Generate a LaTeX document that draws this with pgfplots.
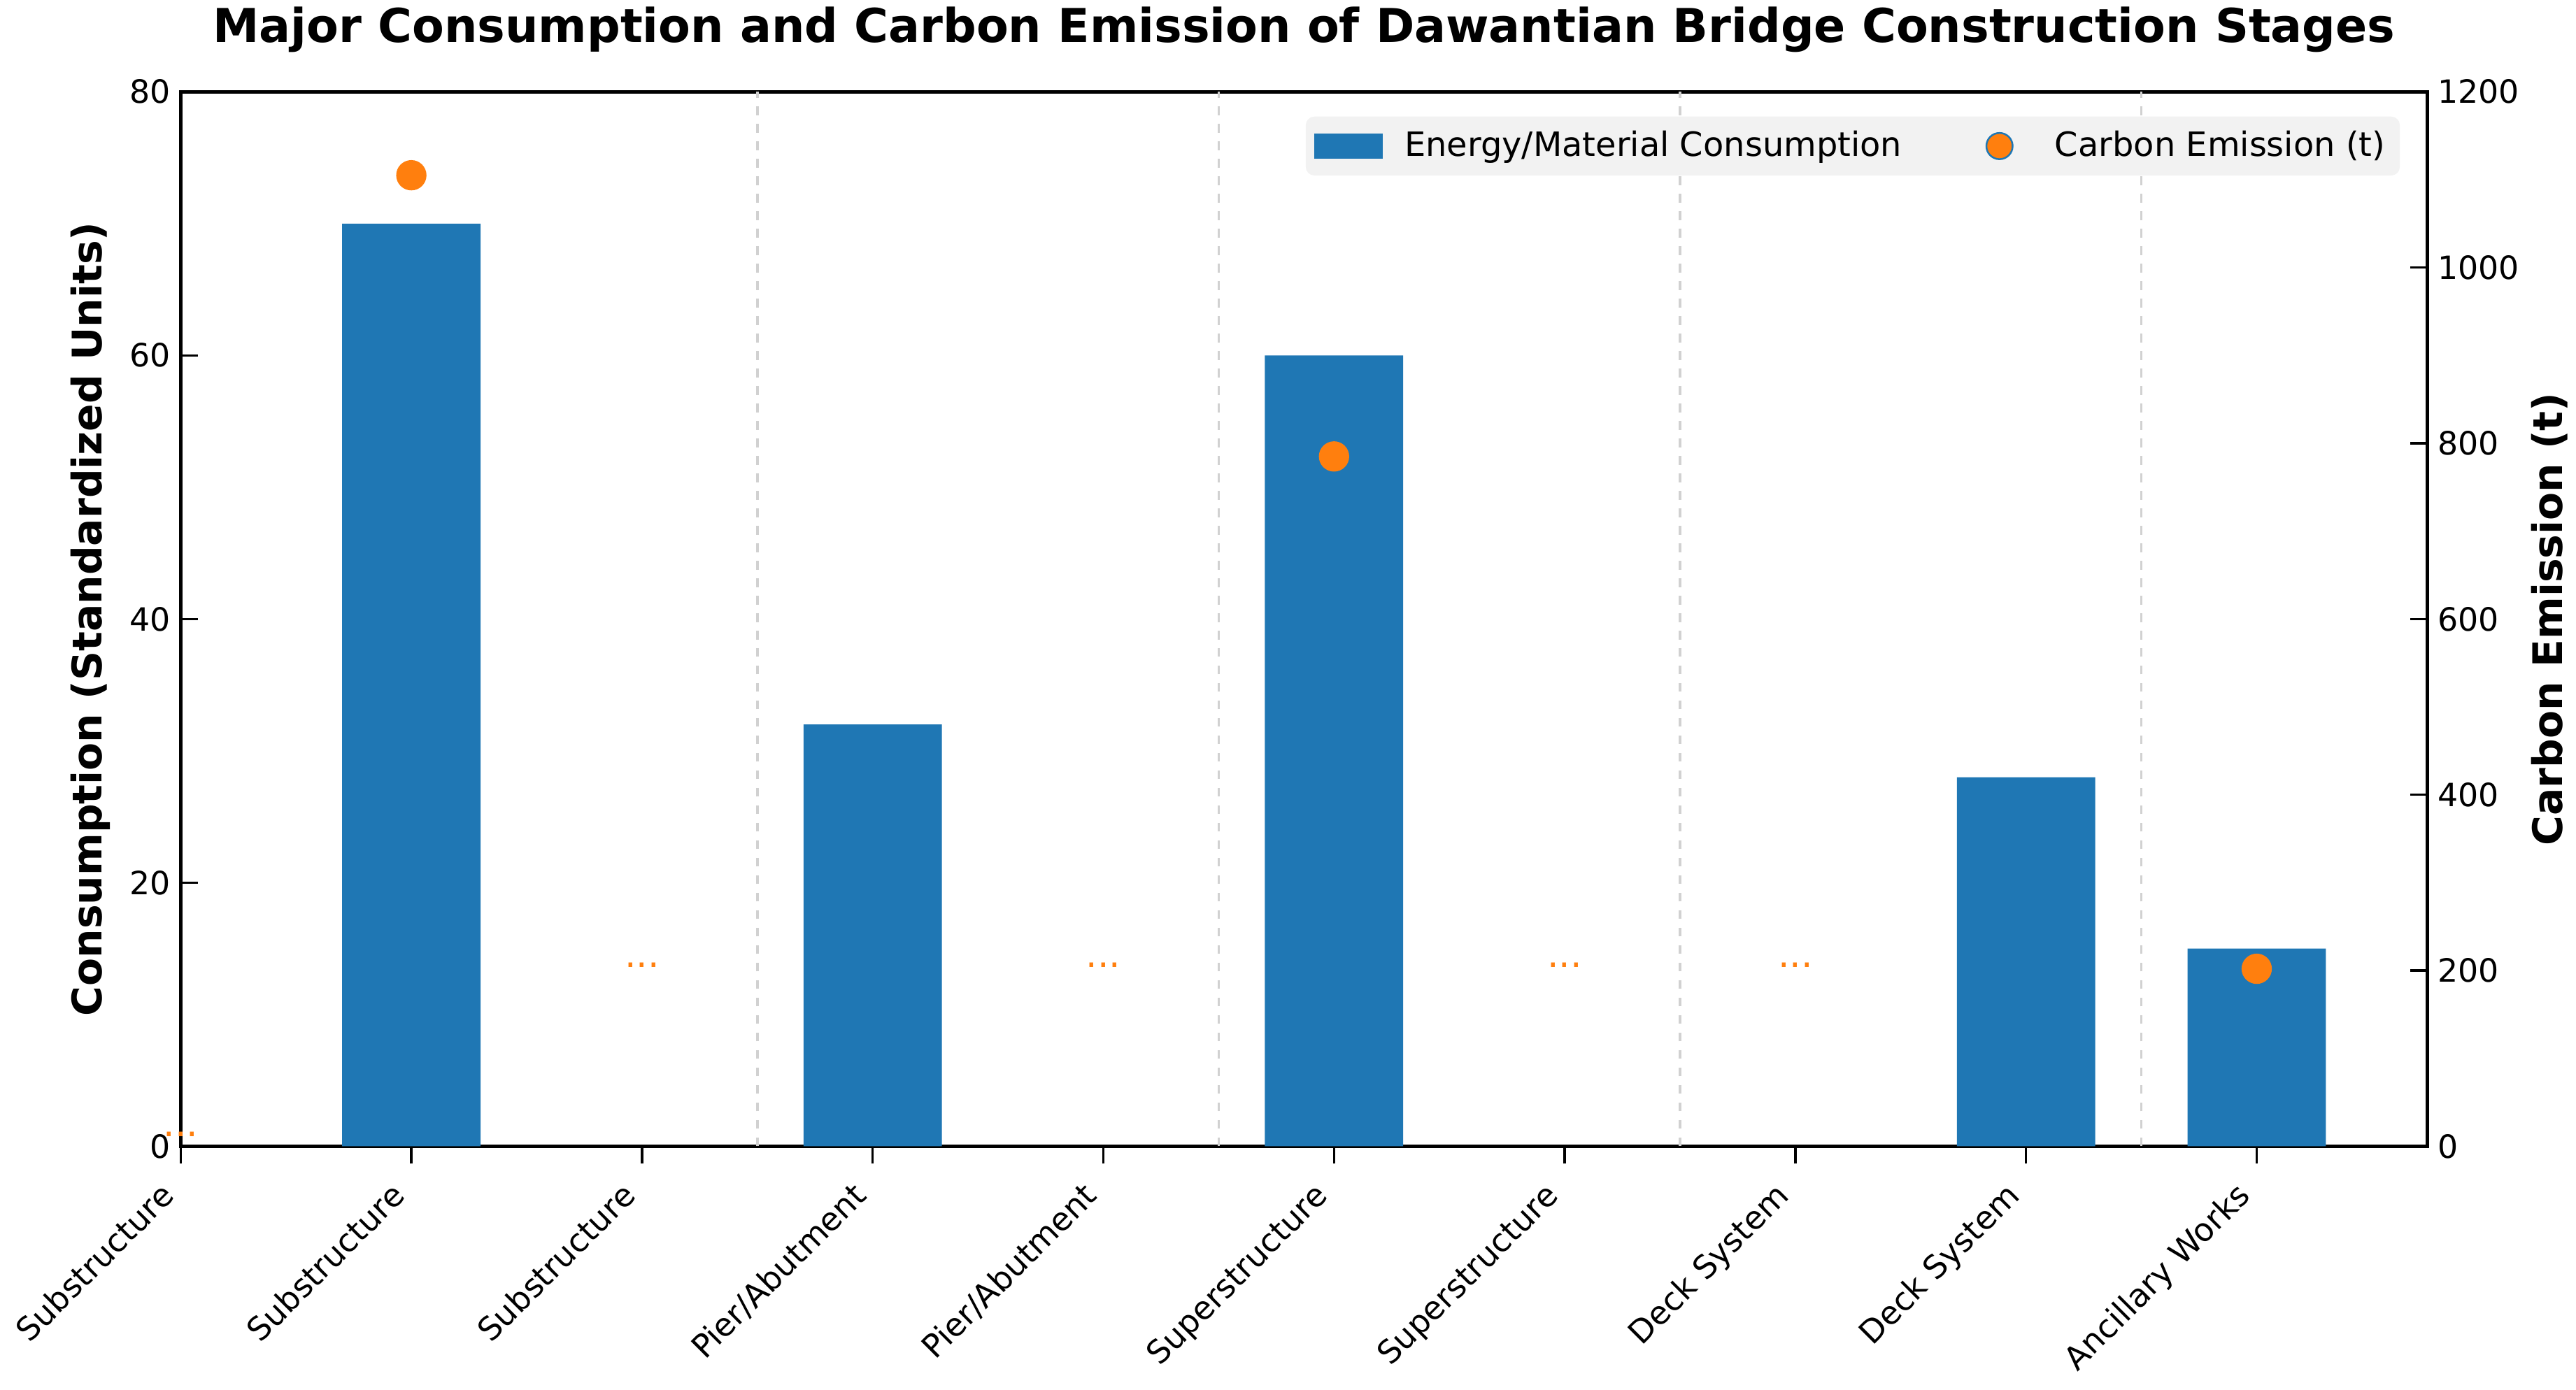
\documentclass[border=0pt]{standalone}
\usepackage{fontspec}
\setmainfont{DejaVu Sans}
\usepackage{pgfplots}
\pgfplotsset{compat=1.18}
\definecolor{barblue}{HTML}{1F77B4}
\definecolor{dotorange}{HTML}{FF7F0E}
\definecolor{legfill}{HTML}{F2F2F2}
\begin{document}
\begin{tikzpicture}
\useasboundingbox (-62pt,-83.5pt) rectangle (822pt,393.5pt);
\begin{axis}[
  at={(0,0)}, anchor=south west, scale only axis,
  width=771pt, height=362pt,
  xmin=0, xmax=9.74, ymin=0, ymax=80,
  ytick={0,20,40,60,80},
  xtick={0,...,9},
  xticklabels={Substructure,Substructure,Substructure,Pier/Abutment,Pier/Abutment,Superstructure,Superstructure,Deck System,Deck System,Ancillary Works},
  xtick pos=bottom, ytick pos=left,
  tick align=inside,
  major tick length=6pt,
  every tick/.style={black, line width=0.8pt},
  x tick style={yshift=-6pt},
  extra x ticks={2.5,4.5,6.5,8.5},
  extra x tick labels={},
  extra x tick style={grid=major, major grid style={dashed, black!18, line width=0.9pt}, major tick length=0pt},
  axis line style={line width=1.3pt},
  /pgf/number format/assume math mode=true,
  tick label style={font=\fontsize{11}{13}\selectfont},
  xticklabel shift=17.5pt,
  x tick label style={xshift=-1.5pt, rotate=45, anchor=base east, inner sep=0pt},
  ylabel={Consumption (Standardized Units)},
  every axis y label/.style={at={(axis description cs:0,0.5)}, xshift=-31pt, rotate=90, anchor=center, font=\fontsize{14}{17}\selectfont\bfseries},
  title={Major Consumption and Carbon Emission of Dawantian Bridge Construction Stages},
  every axis title/.style={at={(axis description cs:0.5,1)}, anchor=base, yshift=17pt, font=\fontsize{16}{19}\selectfont\bfseries},
]
\addplot[ybar, bar width=0.6, fill=barblue, draw=none] coordinates {(1,70) (3,32) (5,60) (8,28) (9,15)};
\end{axis}
\begin{axis}[
  at={(0,0)}, anchor=south west, scale only axis,
  width=771pt, height=362pt,
  xmin=0, xmax=9.74, ymin=0, ymax=1200,
  clip=false,
  axis x line=none, axis y line*=right,
  ytick={0,200,400,600,800,1000,1200},
  tick align=inside,
  major tick length=6pt,
  every tick/.style={black, line width=0.8pt},
  axis line style={line width=1.3pt},
  /pgf/number format/assume math mode=true,
  /pgf/number format/1000 sep={},
  tick label style={font=\fontsize{11}{13}\selectfont},
  ylabel={Carbon Emission (t)},
  every axis y label/.style={at={(axis description cs:1,0.5)}, xshift=42pt, rotate=90, anchor=center, font=\fontsize{14}{17}\selectfont\bfseries},
  legend style={at={(0.988,0.977)}, anchor=north east, fill=legfill, draw=none, rounded corners=3pt,
    font=\fontsize{11.5}{13.5}\selectfont, inner xsep=3pt, inner ysep=3pt,
    /tikz/every odd column/.append style={column sep=5.5pt},
    /tikz/every even column/.append style={column sep=20pt}},
  legend columns=2,
]
\addlegendimage{legend image code/.code={\fill[barblue, sharp corners] (0pt,-4.2pt) rectangle (23pt,4.2pt);}}
\addlegendentry{Energy/Material Consumption}
\addlegendimage{legend image code/.code={\path[draw=none, fill=none] (0pt,-1pt) rectangle (23pt,1pt); \path[fill=dotorange, draw=barblue, line width=0.6pt, solid] (11.5pt,0pt) circle (4.5pt);}}
\addlegendentry{Carbon Emission (t)}
\addplot[only marks, mark=*, mark size=5pt, mark options={fill=dotorange, draw=dotorange}, forget plot] coordinates {(1,1105) (5,785) (9,202)};
\node[text=dotorange, font=\fontsize{12.5}{14}\selectfont, anchor=base] at (axis cs:0,11) {...};
\node[text=dotorange, font=\fontsize{12.5}{14}\selectfont, anchor=base] at (axis cs:2,204) {...};
\node[text=dotorange, font=\fontsize{12.5}{14}\selectfont, anchor=base] at (axis cs:4,204) {...};
\node[text=dotorange, font=\fontsize{12.5}{14}\selectfont, anchor=base] at (axis cs:6,204) {...};
\node[text=dotorange, font=\fontsize{12.5}{14}\selectfont, anchor=base] at (axis cs:7,204) {...};
\end{axis}
\end{tikzpicture}
\end{document}
